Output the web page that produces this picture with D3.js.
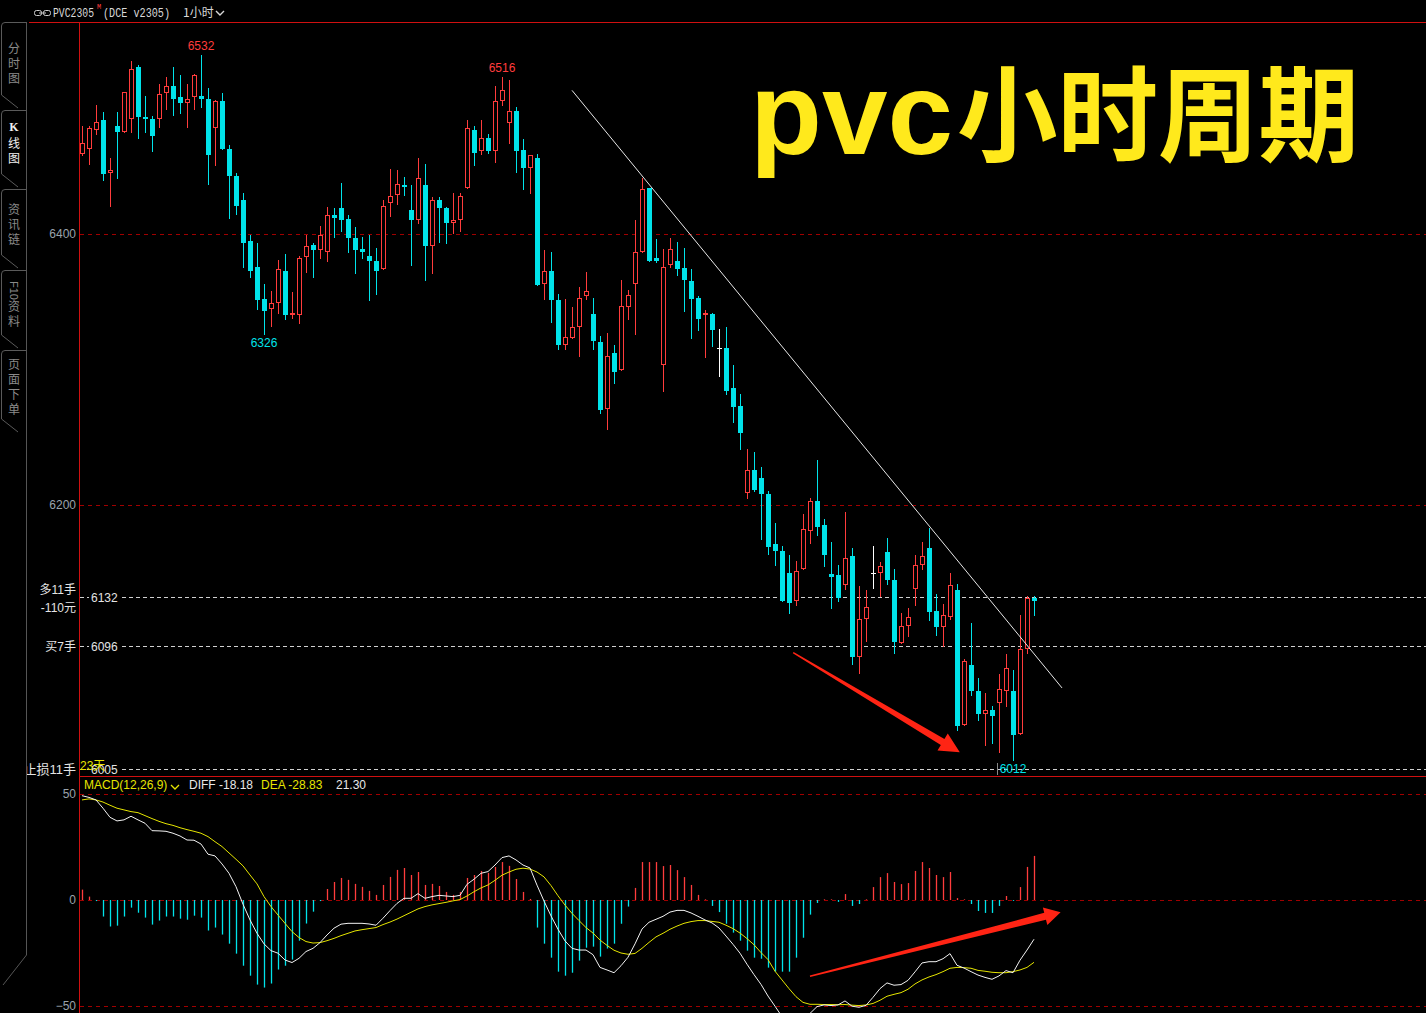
<!DOCTYPE html>
<html>
<head>
<meta charset="utf-8">
<script src="https://cdn.jsdelivr.net/npm/d3@7"></script>
<style>
  body { margin: 0; background: #000; overflow: hidden; }
  svg { display: block; }
</style>
</head>
<body>
<svg id="chart"></svg>
<script>
// ---- data ----
const opens = [6459,6463,6477,6484,6445,6480,6475,6485,6523,6486,
  6485,6485,6504,6509,6501,6497,6501,6502,6500,6478,
  6498,6463,6443,6425,6395,6376,6352,6345,6349,6373,
  6340,6340,6383,6392,6388,6387,6414,6419,6411,6397,
  6389,6384,6380,6374,6423,6429,6436,6418,6410,6436,
  6391,6425,6419,6408,6410,6434,6477,6461,6471,6461,
  6498,6482,6491,6462,6449,6456,6363,6373,6351,6318,
  6323,6331,6354,6341,6320,6271,6312,6300,6346,6363,
  6387,6434,6382,6303,6377,6380,6375,6365,6353,6340,
  6341,6316,6316,6286,6273,6209,6226,6220,6208,6171,
  6166,6150,6129,6153,6181,6203,6185,6149,6148,6141,
  6162,6088,6116,6150,6150,6165,6145,6098,6111,6138,
  6156,6168,6122,6110,6117,6137,6038,6082,6063,6046,
  6049,6054,6063,6063,6031,6094,6131]
const highs = [6480,6480,6495,6490,6456,6490,6505,6528,6525,6502,
  6487,6511,6516,6523,6517,6511,6518,6532,6508,6499,
  6504,6466,6445,6430,6399,6393,6363,6358,6381,6385,
  6357,6384,6399,6393,6406,6420,6419,6438,6414,6405,
  6398,6399,6390,6425,6448,6447,6442,6436,6456,6452,
  6427,6427,6420,6430,6430,6484,6480,6484,6474,6509,
  6516,6514,6494,6470,6458,6459,6388,6387,6356,6352,
  6346,6361,6372,6353,6325,6327,6318,6366,6359,6410,
  6441,6434,6396,6389,6397,6394,6390,6374,6354,6344,
  6342,6330,6331,6303,6282,6241,6239,6228,6210,6187,
  6170,6163,6159,6193,6205,6233,6190,6173,6156,6195,
  6168,6140,6137,6170,6158,6176,6153,6120,6124,6163,
  6173,6183,6134,6127,6150,6142,6086,6113,6072,6061,
  6052,6075,6090,6078,6119,6133,6133]
const lows = [6458,6452,6474,6440,6421,6441,6475,6475,6471,6475,
  6461,6479,6492,6488,6489,6479,6492,6494,6437,6451,
  6463,6412,6415,6376,6368,6345,6326,6332,6342,6337,
  6338,6334,6372,6368,6382,6380,6398,6402,6387,6371,
  6382,6351,6356,6374,6413,6422,6429,6377,6408,6366,
  6371,6394,6393,6401,6402,6434,6451,6459,6460,6453,
  6495,6467,6446,6433,6430,6362,6352,6335,6315,6315,
  6323,6310,6352,6315,6268,6256,6290,6300,6337,6326,
  6387,6380,6379,6284,6376,6370,6343,6323,6329,6309,
  6317,6295,6282,6261,6241,6205,6210,6175,6164,6156,
  6129,6120,6126,6153,6172,6178,6155,6124,6129,6138,
  6083,6076,6100,6139,6133,6142,6091,6098,6103,6126,
  6153,6115,6104,6096,6116,6034,6038,6060,6041,6023,
  6024,6018,6052,6012,6031,6091,6119]
const closes = [6467,6478,6483,6444,6447,6475,6505,6522,6486,6485,
  6472,6503,6509,6500,6497,6500,6517,6500,6458,6498,
  6463,6443,6421,6393,6373,6351,6343,6349,6374,6340,
  6342,6382,6391,6388,6399,6414,6412,6410,6397,6388,
  6387,6380,6373,6421,6428,6437,6435,6410,6441,6391,
  6425,6419,6408,6410,6428,6478,6460,6471,6461,6498,
  6506,6491,6461,6449,6458,6362,6373,6351,6318,6324,
  6331,6353,6358,6321,6270,6310,6298,6347,6355,6387,
  6433,6380,6380,6376,6389,6374,6366,6352,6337,6342,
  6329,6316,6284,6272,6253,6226,6211,6208,6169,6166,
  6129,6128,6151,6182,6203,6184,6163,6147,6131,6161,
  6088,6116,6125,6150,6155,6145,6099,6111,6117,6156,
  6162,6121,6110,6119,6141,6037,6085,6063,6046,6049,
  6044,6064,6080,6030,6094,6131,6129]

const macdHist = [4.9,1.6,-0.5,-7.8,-12.5,-12.1,-7.8,-3.6,-6.0,-8.3,
  -11.6,-9.7,-7.8,-7.8,-8.8,-9.3,-7.4,-8.3,-14.4,-13.0,
  -16.3,-20.6,-25.3,-31.0,-35.7,-39.9,-41.3,-39.4,-32.8,-31.0,
  -28.1,-19.2,-11.1,-5.5,-0.5,5.2,8.5,10.4,9.5,7.6,
  6.2,4.3,2.4,7.1,10.9,14.2,15.1,11.8,13.2,7.1,
  7.6,6.6,3.8,2.4,3.8,10.4,11.8,13.7,12.8,15.6,
  17.9,16.1,9.9,3.8,0.5,-13.0,-20.6,-27.2,-33.8,-35.7,
  -34.3,-28.6,-22.5,-22.0,-26.7,-22.9,-20.6,-11.2,-3.1,5.7,
  17.9,17.9,17.9,16.0,16.5,14.1,10.8,7.1,2.4,0.3,
  -2.8,-5.7,-11.2,-15.4,-19.2,-23.9,-27.2,-27.7,-31.9,-33.8,
  -33.8,-33.8,-27.2,-17.8,-6.9,-1.4,0.3,0.3,-0.9,2.8,
  -2.8,-1.9,0.3,6.1,10.8,12.7,8.5,7.5,8.0,13.7,
  17.9,15.1,11.8,10.8,13.2,0.9,0.3,-1.9,-5.2,-6.1,
  -6.1,-2.8,1.9,-0.4,6.1,15.6,20.8]
const diffLine = [49.2,48.4,47.2,43.3,39.0,37.3,37.8,39.5,37.8,36.2,
  32.7,32.6,32.4,31.5,30.2,28.3,28.2,26.4,21.6,20.8,
  17.0,12.6,6.3,-2.0,-9.4,-15.7,-20.7,-23.9,-25.1,-28.3,
  -29.5,-27.5,-24.3,-22.8,-20.1,-16.5,-13.3,-11.4,-11.0,-11.0,
  -11.0,-11.3,-11.9,-8.6,-5.0,-1.6,0.8,0.8,3.0,0.8,
  1.6,2.2,1.9,1.6,2.2,7.4,9.8,12.6,13.4,16.5,
  20.0,20.8,18.9,16.5,15.1,7.0,-0.5,-7.5,-13.8,-19.3,
  -22.8,-23.6,-23.6,-25.8,-31.8,-33.0,-34.3,-31.0,-27.0,-20.7,
  -13.7,-10.5,-9.1,-7.7,-5.7,-4.9,-4.9,-6.1,-7.7,-9.4,
  -10.8,-13.2,-17.0,-20.9,-25.1,-30.3,-35.2,-39.8,-45.3,-50.1,
  -55.0,-57.0,-57.5,-56.0,-53.5,-50.3,-49.5,-49.8,-49.5,-47.6,
  -50.1,-50.6,-49.7,-45.9,-41.8,-39.1,-40.2,-39.9,-37.9,-33.9,
  -29.7,-29.1,-29.1,-27.7,-25.3,-30.8,-32.1,-33.8,-35.4,-36.5,
  -37.4,-35.8,-33.3,-34.3,-28.4,-23.6,-18.5]
const deaLine = [47.2,47.7,47.2,46.2,44.7,43.3,42.5,41.7,41.2,39.8,
  38.4,37.1,36.0,35.2,34.1,33.2,32.4,31.5,29.9,27.5,
  25.2,22.2,19.2,16.1,11.8,7.6,1.6,-3.1,-7.1,-11.0,
  -14.9,-17.7,-19.6,-20.3,-20.1,-19.2,-18.1,-16.8,-15.7,-14.6,
  -14.0,-13.5,-13.0,-11.6,-10.4,-9.0,-7.4,-5.8,-4.2,-3.1,
  -2.3,-1.7,-1.1,-0.4,0.2,1.9,3.9,5.7,7.1,9.3,
  11.7,13.2,14.5,15.0,14.6,13.2,10.9,6.8,2.0,-2.4,
  -6.3,-9.7,-13.0,-15.6,-18.9,-21.4,-23.7,-25.0,-25.6,-25.2,
  -22.8,-20.0,-17.4,-15.7,-13.8,-12.3,-11.0,-10.2,-9.7,-9.7,
  -10.1,-10.5,-11.9,-13.5,-15.6,-18.2,-21.1,-24.8,-28.1,-33.6,
  -37.7,-41.8,-45.6,-48.3,-49.2,-49.2,-49.3,-49.3,-49.4,-49.3,
  -49.6,-49.8,-49.5,-48.8,-47.3,-45.4,-44.5,-43.7,-42.1,-39.6,
  -37.7,-36.3,-35.2,-33.8,-32.2,-31.8,-31.9,-32.2,-33.2,-33.6,
  -34.1,-34.3,-34.3,-33.8,-33.0,-31.8,-29.4]

const priceTicks = [6400, 6200]
const macdTicks = [50, 0, -50]
const highMarks = [17, 60]
const lowMarks = [26, 133]
const orderLines = [
  { price: 6132, note: ['多11手', '-110元'] },
  { price: 6096, note: ['买7手'] },
  { price: 6005, note: ['止损11手'], tag: '23天' }
]
const macdHeader = { name: 'MACD(12,26,9)', diff: '-18.18', dea: '-28.83', macd: '21.30' }
const trendLine = [[70, 6506], [140, 6065]]
const priceArrow = [[101.6, 6091], [125.4, 6017.5]]
const macdArrow = [[104, -36], [139.8, -5.8]]
const sideTabs = [['分','时','图'], ['K','线','图'], ['资','讯','链'], ['F10','资','料'], ['页','面','下','单']]
const title = ['pvc', '小时周期']

// ---- setup ----
const W = 1426, H = 1013
const RED = '#ff3c3c', CYAN = '#00e3ea', GRID_RED = '#a00000', YELLOW = '#e6e600'
const FONT = '"Liberation Sans", "Noto Sans CJK SC", sans-serif'

const svg = d3.select('#chart').attr('width', W).attr('height', H)
svg.append('rect').attr('width', W).attr('height', H).attr('fill', '#000')

const x = d3.scaleLinear().domain([0, opens.length - 1]).range([82, 1034])
const y = d3.scaleLinear().domain([6200, 6400]).range([505, 234])
const ym = d3.scaleLinear().domain([-50, 50]).range([1006, 794])
const py = v => Math.round(y(v))

const defs = svg.append('defs')
defs.append('clipPath').attr('id', 'clipMain').append('rect')
  .attr('x', 80).attr('y', 23).attr('width', W - 80).attr('height', 752)
defs.append('clipPath').attr('id', 'clipMacd').append('rect')
  .attr('x', 80).attr('y', 777).attr('width', W - 80).attr('height', H - 777)
defs.append('clipPath').attr('id', 'clipLeft').append('rect')
  .attr('x', 27).attr('y', 23).attr('width', 52).attr('height', H)

/// frame ////////////////////////////////
svg.append('line').attr('x1', 29).attr('x2', W).attr('y1', 22.5).attr('y2', 22.5).attr('stroke', '#d01010')
svg.append('line').attr('x1', 79.5).attr('x2', 79.5).attr('y1', 22).attr('y2', H).attr('stroke', '#d01010')
svg.append('line').attr('x1', 79).attr('x2', W).attr('y1', 776.5).attr('y2', 776.5).attr('stroke', '#d01010')

/// header ////////////////////////////////
const head = svg.append('g').attr('font-family', '"Liberation Mono", "Noto Sans CJK SC", monospace').attr('fill', '#d8d8d8')
head.append('rect').attr('x', 34.5).attr('y', 10.5).attr('width', 7).attr('height', 5).attr('rx', 2)
  .attr('fill', 'none').attr('stroke', '#cfcfcf')
head.append('rect').attr('x', 43.5).attr('y', 10.5).attr('width', 7).attr('height', 5).attr('rx', 2)
  .attr('fill', 'none').attr('stroke', '#cfcfcf')
head.append('line').attr('x1', 39).attr('x2', 46).attr('y1', 13).attr('y2', 13).attr('stroke', '#cfcfcf')
head.append('text').attr('x', 53).attr('y', 17).attr('font-size', 12.5)
  .attr('textLength', 41).attr('lengthAdjust', 'spacingAndGlyphs').text('PVC2305')
head.append('text').attr('x', 97).attr('y', 9).attr('font-size', 7).attr('fill', RED).text('M')
head.append('text').attr('x', 103).attr('y', 17).attr('font-size', 12.5)
  .attr('textLength', 67).attr('lengthAdjust', 'spacingAndGlyphs').text('(DCE v2305)')
head.append('text').attr('x', 183).attr('y', 17).attr('font-size', 12)
  .attr('font-family', '"Noto Sans CJK SC", sans-serif').text('1小时')
head.append('path').attr('d', 'M216,11 L220,15 L224,11').attr('fill', 'none').attr('stroke', '#d8d8d8').attr('stroke-width', 1.4)

/// side tabs ////////////////////////////////
const tabTops = [22, 110, 189, 270, 350]
const tabBottoms = [108, 187, 268, 348, 432]
const tabFirst = [47, 127, 208, 305, 363]
const side = svg.append('g')
side.append('path').attr('d', `M26.5,22 L26.5,955 L3,985`).attr('fill', 'none').attr('stroke', '#555')
sideTabs.forEach((chars, k) => {
  const t = tabTops[k], b = tabBottoms[k]
  side.append('path')
    .attr('d', `M26.5,${t + 0.5} L5,${t + 0.5} Q1.5,${t + 0.5} 1.5,${t + 4} L1.5,${b - 13} L18,${b}`)
    .attr('fill', 'none').attr('stroke', '#5a5a5a')
  const active = k === 1
  const col = active ? '#f0f0f0' : '#8a8a8a'
  let n = 0
  chars.forEach(c => {
    if (c === 'F10') {
      side.append('text').attr('transform', `translate(10,${t + 11}) rotate(90)`)
        .attr('font-family', FONT).attr('font-size', 11).attr('fill', col).text(c)
      return
    }
    side.append('text').attr('x', 14).attr('y', tabFirst[k] + n * 15)
      .attr('text-anchor', 'middle').attr('dominant-baseline', 'central')
      .attr('font-family', c === 'K' ? '"Liberation Serif", serif' : '"Noto Sans CJK SC", sans-serif')
      .attr('font-weight', c === 'K' ? 'bold' : 'normal')
      .attr('font-size', 12).attr('fill', col).text(c)
    n++
  })
})

/// grid ////////////////////////////////
svg.append('g').selectAll('line').data(priceTicks).enter().append('line')
  .attr('x1', 80).attr('x2', W).attr('y1', d => py(d) + 0.5).attr('y2', d => py(d) + 0.5)
  .attr('stroke', GRID_RED).attr('stroke-dasharray', '4,4')
svg.append('g').selectAll('line').data(macdTicks).enter().append('line')
  .attr('x1', 80).attr('x2', W).attr('y1', d => Math.round(ym(d)) + 0.5).attr('y2', d => Math.round(ym(d)) + 0.5)
  .attr('stroke', GRID_RED).attr('stroke-dasharray', '4,4')

// axes
const yAxis = svg.append('g').attr('transform', 'translate(78,0)')
  .call(d3.axisLeft(y).tickValues(priceTicks).tickSize(0).tickPadding(2).tickFormat(d3.format('d')))
const mAxis = svg.append('g').attr('transform', 'translate(78,0)')
  .call(d3.axisLeft(ym).tickValues(macdTicks).tickSize(0).tickPadding(2))
;[yAxis, mAxis].forEach(g => {
  g.select('.domain').remove()
  g.selectAll('text').attr('fill', '#9aa3ab').attr('font-size', 12).attr('font-family', FONT)
})

/// order lines ////////////////////////////////
const orders = svg.append('g').attr('font-family', FONT).attr('font-size', 12)
orderLines.forEach(o => {
  const yy = py(o.price) + 0.5
  orders.append('line').attr('x1', 80).attr('x2', W).attr('y1', yy).attr('y2', yy)
    .attr('stroke', '#d0d0d0').attr('stroke-dasharray', '4,3')
  orders.append('rect').attr('x', 89).attr('y', yy - 7).attr('width', 32).attr('height', 13).attr('fill', '#000')
  orders.append('text').attr('x', 91).attr('y', yy).attr('dominant-baseline', 'central')
    .attr('fill', '#e4e4e4').text(o.price)
  o.note.forEach((n, j) => {
    orders.append('text').attr('x', 76).attr('y', yy - 8 + j * 18 + (o.note.length === 1 ? 8 : 0))
      .attr('clip-path', 'url(#clipLeft)').attr('font-size', o.tag ? 13 : 12)
      .attr('text-anchor', 'end').attr('dominant-baseline', 'central').attr('fill', '#e4e4e4').text(n)
  })
  if (o.tag) {
    orders.append('text').attr('x', 80).attr('y', yy - 4).attr('dominant-baseline', 'central')
      .attr('fill', YELLOW).text(o.tag)
  }
})

/// candles ////////////////////////////////
const bars = opens.map((o, i) => ({ i, o, h: highs[i], l: lows[i], c: closes[i] }))
const colorOf = d => d.c > d.o ? RED : d.c < d.o ? CYAN : '#ffffff'
const main = svg.append('g').attr('clip-path', 'url(#clipMain)')

main.append('g').selectAll('line').data(bars).enter().append('line')
  .attr('x1', d => x(d.i) + 0.5).attr('x2', d => x(d.i) + 0.5)
  .attr('y1', d => py(d.h)).attr('y2', d => py(d.l) + 1)
  .attr('stroke', colorOf)

main.append('g').selectAll('rect').data(bars.filter(d => d.c < d.o)).enter().append('rect')
  .attr('x', d => x(d.i) - 2).attr('width', 5)
  .attr('y', d => py(d.o)).attr('height', d => Math.max(1, py(d.c) - py(d.o)))
  .attr('fill', CYAN)

main.append('g').selectAll('rect').data(bars.filter(d => d.c > d.o)).enter().append('rect')
  .attr('x', d => x(d.i) - 1.5).attr('width', 4)
  .attr('y', d => py(d.c) + 0.5).attr('height', d => Math.max(1, py(d.o) - py(d.c) - 1))
  .attr('fill', '#000').attr('stroke', RED)

main.append('g').selectAll('line').data(bars.filter(d => d.c === d.o)).enter().append('line')
  .attr('x1', d => x(d.i) - 2).attr('x2', d => x(d.i) + 3)
  .attr('y1', d => py(d.o) + 0.5).attr('y2', d => py(d.o) + 0.5)
  .attr('stroke', '#ffffff')

// high / low marks
const marks = svg.append('g').attr('font-family', FONT).attr('font-size', 12).attr('text-anchor', 'middle')
highMarks.forEach(i => {
  marks.append('text').attr('x', x(i)).attr('y', py(highs[i]) - 9).attr('dominant-baseline', 'central')
    .attr('fill', RED).text(highs[i])
})
lowMarks.forEach(i => {
  marks.append('text').attr('x', x(i)).attr('y', py(lows[i]) + 9).attr('dominant-baseline', 'central')
    .attr('fill', CYAN).text(lows[i])
})
marks.append('line').attr('x1', x(lowMarks[1]) - 15.5).attr('x2', x(lowMarks[1]) - 15.5)
  .attr('y1', py(lows[lowMarks[1]]) + 3).attr('y2', py(lows[lowMarks[1]]) + 15).attr('stroke', '#888')

// trend line
main.append('path').datum(trendLine)
  .attr('d', d3.line().x(d => x(d[0])).y(d => y(d[1])))
  .attr('fill', 'none').attr('stroke', '#e8e8e8').attr('stroke-width', 1)

/// macd ////////////////////////////////
const macd = svg.append('g').attr('clip-path', 'url(#clipMacd)')
const zeroY = Math.round(ym(0))
macd.append('g').selectAll('line').data(macdHist).enter().append('line')
  .attr('x1', (d, i) => x(i) + 0.5).attr('x2', (d, i) => x(i) + 0.5)
  .attr('y1', zeroY).attr('y2', d => ym(d))
  .attr('stroke', d => d >= 0 ? RED : CYAN).attr('stroke-width', 1.3)

macd.append('path').datum(deaLine)
  .attr('d', d3.line().x((d, i) => x(i)).y(d => ym(d)))
  .attr('fill', 'none').attr('stroke', YELLOW).attr('stroke-width', 1)
macd.append('path').datum(diffLine)
  .attr('d', d3.line().x((d, i) => x(i)).y(d => ym(d)))
  .attr('fill', 'none').attr('stroke', '#f2f2f2').attr('stroke-width', 1)

const mh = svg.append('g').attr('font-family', FONT).attr('font-size', 12)
mh.append('text').attr('x', 84).attr('y', 789).attr('fill', YELLOW).text(macdHeader.name)
mh.append('path').attr('d', 'M171,785 L175,789 L179,785').attr('fill', 'none').attr('stroke', YELLOW).attr('stroke-width', 1.3)
mh.append('text').attr('x', 189).attr('y', 789).attr('fill', '#e8e8e8').text('DIFF ' + macdHeader.diff)
mh.append('text').attr('x', 261).attr('y', 789).attr('fill', YELLOW).text('DEA ' + macdHeader.dea)
mh.append('text').attr('x', 336).attr('y', 789).attr('fill', '#e8e8e8').text(macdHeader.macd)

/// arrows ////////////////////////////////
function arrowPath(p0, p1, w0, w1, hl, hw) {
  const dx = p1[0] - p0[0], dy = p1[1] - p0[1]
  const len = Math.hypot(dx, dy)
  const ux = dx / len, uy = dy / len, nx = -uy, ny = ux
  const bx = p1[0] - ux * hl, by = p1[1] - uy * hl
  const pts = [
    [p0[0] + nx * w0 / 2, p0[1] + ny * w0 / 2],
    [bx + nx * w1 / 2, by + ny * w1 / 2],
    [bx + nx * hw, by + ny * hw],
    p1,
    [bx - nx * hw, by - ny * hw],
    [bx - nx * w1 / 2, by - ny * w1 / 2],
    [p0[0] - nx * w0 / 2, p0[1] - ny * w0 / 2]
  ]
  return 'M' + pts.map(p => p.join(',')).join('L') + 'Z'
}
const a1 = priceArrow.map(d => [x(d[0]), y(d[1])])
const a2 = macdArrow.map(d => [x(d[0]), ym(d[1])])
svg.append('path').attr('d', arrowPath(a1[0], a1[1], 1.5, 7, 20, 10)).attr('fill', '#ff2414')
svg.append('path').attr('d', arrowPath(a2[0], a2[1], 1.5, 7, 16, 9)).attr('fill', '#ff2414')

/// title ////////////////////////////////
svg.append('text').attr('x', 750).attr('y', 154)
  .attr('font-family', '"Liberation Sans", Arial, sans-serif').attr('font-weight', 'bold')
  .attr('font-size', 116).attr('fill', '#ffe91c')
  .attr('textLength', 203).attr('lengthAdjust', 'spacingAndGlyphs').text(title[0])
svg.append('text').attr('x', 957).attr('y', 154)
  .attr('font-family', '"Noto Sans CJK SC", sans-serif').attr('font-weight', 'bold')
  .attr('font-size', 104).attr('fill', '#ffe91c')
  .attr('textLength', 402).attr('lengthAdjust', 'spacingAndGlyphs').text(title[1])
</script>
</body>
</html>
